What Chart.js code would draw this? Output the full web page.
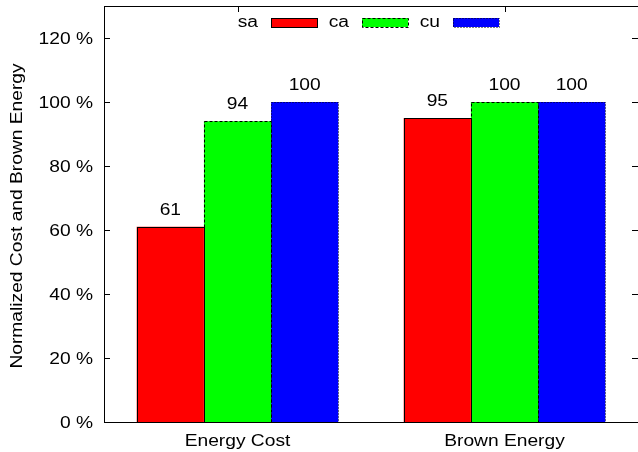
<!DOCTYPE html>
<html>
<head>
<meta charset="utf-8">
<script src="https://cdn.jsdelivr.net/npm/chart.js@4.4.1/dist/chart.umd.min.js"></script>
<style>
  html, body { margin: 0; padding: 0; background: #fff; }
  #wrap { width: 638px; height: 452px; }
</style>
</head>
<body>
<div id="wrap"><canvas id="chart"></canvas></div>
<script>
// Data
const categories = ["Energy Cost", "Brown Energy"];
const seriesNames = ["sa", "ca", "cu"];
const saValues = [61, 95];
const caValues = [94, 100];
const cuValues = [100, 100];
const yTickValues = [0, 20, 40, 60, 80, 100, 120];
const yTitle = "Normalized Cost and Brown Energy";

const FONT = "16px 'Liberation Sans', Arial, Helvetica, sans-serif";
const TEXT_STRETCH = 1.2; // gnuplot's text comes out a bit wide
const fillColors = ["#ff0000", "#00ff00", "#0000ff"];
const borderDashes = [[], [3, 2], [1, 2]];

function wideText(ctx, text, x, y, align, angle) {
  ctx.save();
  ctx.translate(x, y);
  if (angle) ctx.rotate(angle);
  ctx.scale(TEXT_STRETCH, 1);
  ctx.font = FONT;
  ctx.fillStyle = "#000";
  ctx.textAlign = align;
  ctx.textBaseline = "alphabetic";
  ctx.fillText(text, 0, 0);
  ctx.restore();
}

// gnuplot look: inward ticks, frame, dashed bar borders, labels, key
const gnuplotStyle = {
  id: "gnuplotStyle",
  beforeDatasetsDraw(chart) {
    const { ctx, chartArea: a, scales } = chart;
    ctx.save();
    ctx.strokeStyle = "#000";
    ctx.lineWidth = 1;
    ctx.beginPath();
    yTickValues.forEach((v) => {
      const y = Math.round(scales.y.getPixelForValue(v)) + 0.5;
      ctx.moveTo(a.left, y);
      ctx.lineTo(a.left + 6, y);
      ctx.moveTo(a.right - 6, y);
      ctx.lineTo(a.right, y);
    });
    categories.forEach((c, i) => {
      const x = Math.round(scales.x.getPixelForValue(i)) + 0.5;
      ctx.moveTo(x, a.top);
      ctx.lineTo(x, a.top + 6);
    });
    ctx.stroke();
    ctx.restore();

    // axis labels
    yTickValues.forEach((v) => {
      wideText(ctx, v + " %", a.left - 11, scales.y.getPixelForValue(v) + 6, "right");
    });
    categories.forEach((c, i) => {
      wideText(ctx, c, scales.x.getPixelForValue(i), 446, "center");
    });
    wideText(ctx, yTitle, 22, (a.top + a.bottom) / 2 + 2, "center", -Math.PI / 2);
  },
  afterDatasetsDraw(chart) {
    const { ctx, chartArea: a } = chart;
    ctx.save();
    ctx.strokeStyle = "#000";
    ctx.lineWidth = 1;

    chart.data.datasets.forEach((ds, di) => {
      const meta = chart.getDatasetMeta(di);
      meta.data.forEach((bar, i) => {
        const left = Math.round(bar.x - bar.width / 2) + 0.5;
        const right = Math.round(bar.x + bar.width / 2) + 0.5;
        const top = Math.round(bar.y) + 0.5;
        const bottom = Math.round(bar.base) + 0.5;
        ctx.setLineDash(borderDashes[di]);
        ctx.strokeRect(left, top, right - left, bottom - top);
        wideText(ctx, String(ds.data[i]), bar.x, bar.y - 12, "center");
      });
    });

    // key
    chart.data.datasets.forEach((ds, di) => {
      const bx = 271 + di * 91;
      const by = 18;
      wideText(ctx, ds.label, bx - 13, by + 9, "right");
      ctx.fillStyle = ds.backgroundColor;
      ctx.fillRect(bx, by, 46, 9);
      ctx.setLineDash(borderDashes[di]);
      ctx.strokeRect(bx + 0.5, by + 0.5, 46, 9);
    });

    // frame
    ctx.setLineDash([]);
    ctx.strokeRect(Math.round(a.left) + 0.5, Math.round(a.top) + 0.5,
      Math.round(a.right - a.left), Math.round(a.bottom - a.top));
    ctx.restore();
  },
};

const datasets = [saValues, caValues, cuValues].map((vals, i) => ({
  label: seriesNames[i],
  data: vals,
  backgroundColor: fillColors[i],
  borderWidth: 0,
  categoryPercentage: 0.755,
  barPercentage: 1.0,
}));

new Chart(document.getElementById("chart"), {
  type: "bar",
  data: { labels: categories, datasets: datasets },
  options: {
    responsive: true,
    maintainAspectRatio: false,
    animation: false,
    devicePixelRatio: 1,
    layout: { padding: { top: 6, right: -2, left: 0, bottom: 0 } },
    plugins: {
      legend: { display: false },
      tooltip: { enabled: false },
    },
    scales: {
      x: {
        offset: true,
        grid: { display: false, drawTicks: false },
        border: { display: false },
        ticks: { display: false },
        afterFit(scale) {
          scale.height = 30;
          scale.paddingLeft = 0;
          scale.paddingRight = 0;
        },
      },
      y: {
        min: 0,
        max: 130,
        afterBuildTicks(scale) {
          scale.ticks = yTickValues.map((v) => ({ value: v }));
        },
        grid: { display: false, drawTicks: false },
        border: { display: false },
        ticks: { display: false },
        afterFit(scale) {
          scale.width = 104;
          scale.paddingTop = 0;
          scale.paddingBottom = 0;
        },
      },
    },
  },
  plugins: [gnuplotStyle],
});
</script>
</body>
</html>
